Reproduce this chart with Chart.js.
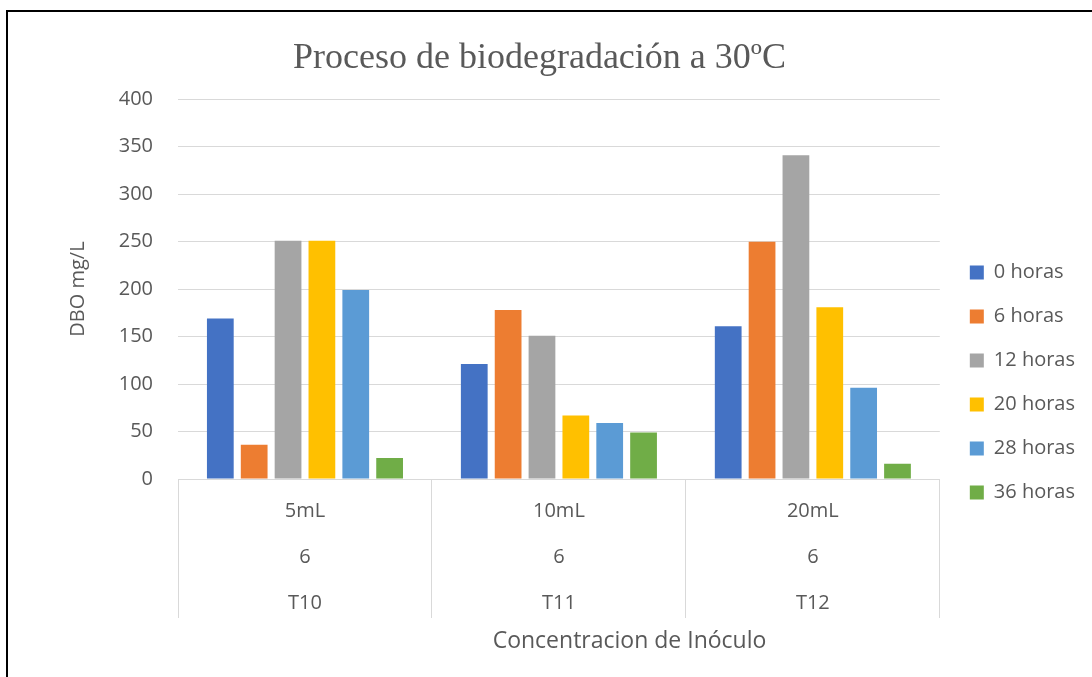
<!DOCTYPE html>
<html>
<head>
<meta charset="utf-8">
<script src="https://cdn.jsdelivr.net/npm/chart.js@4"></script>
<style>
  html, body { margin: 0; padding: 0; background: #fff; }
  #frame { position: absolute; left: 6px; top: 10px; width: 1200px; height: 800px;
           border-left: 2px solid #000; border-top: 2px solid #000; }
  #wrap { position: absolute; left: 0; top: 0; width: 1092px; height: 677px; }
</style>
</head>
<body>
<div id="frame"></div>
<div id="wrap"><canvas id="chart"></canvas></div>
<script>
// categorias (3 niveles) y series
const categories = [
  ['5mL', '6', 'T10'],
  ['10mL', '6', 'T11'],
  ['20mL', '6', 'T12']
];
const seriesNames = ['0 horas', '6 horas', '12 horas', '20 horas', '28 horas', '36 horas'];
const h0  = [169, 121, 161];
const h6  = [36, 178, 250];
const h12 = [251, 151, 341];
const h20 = [251, 67, 181];
const h28 = [199, 59, 96];
const h36 = [22, 49, 16];
const yTicks = [0, 50, 100, 150, 200, 250, 300, 350, 400];

const colors = ['#4472C4', '#ED7D31', '#A5A5A5', '#FFC000', '#5B9BD5', '#70AD47'];
const textColor = '#595959';
const gridColor = '#d9d9d9';
const font = 'Open Sans';

const seriesData = [h0, h6, h12, h20, h28, h36];

// titulo del eje x centrado sobre grafico + leyenda (como Excel)
const xTitlePlugin = {
  id: 'xTitle',
  afterLayout(chart) {
    // bajar la leyenda
    const l = chart.legend;
    l.top += 44; l.bottom += 44;
    l.left += 6; l.right += 6;
  },
  afterDraw(chart) {
    const ctx = chart.ctx;
    const area = chart.chartArea;
    ctx.save();
    ctx.fillStyle = textColor;
    ctx.font = '23px "' + font + '"';
    ctx.textAlign = 'center';
    ctx.textBaseline = 'middle';
    ctx.fillText('Concentracion de Inóculo', (area.left + chart.legend.right) / 2 - 2, 641);
    ctx.restore();
  }
};

const ctx = document.getElementById('chart').getContext('2d');
new Chart(ctx, {
  type: 'bar',
  data: {
    labels: categories,
    datasets: seriesNames.map((name, i) => ({
      label: name,
      data: seriesData[i],
      backgroundColor: colors[i],
      borderWidth: 0,
      categoryPercentage: 0.8,
      barPercentage: 0.79
    }))
  },
  options: {
    responsive: true,
    maintainAspectRatio: false,
    animation: false,
    layout: { padding: { left: 0, right: 13, top: 0, bottom: 0 } },
    plugins: {
      title: {
        display: true,
        text: 'Proceso de biodegradación a 30ºC',
        color: textColor,
        font: { family: 'Liberation Serif', size: 36, weight: 'normal' },
        padding: { top: 37, bottom: 19 }
      },
      legend: {
        position: 'right',
        labels: {
          color: textColor,
          font: { family: font, size: 20 },
          boxWidth: 14,
          boxHeight: 14,
          padding: 24
        }
      },
      tooltip: { enabled: false }
    },
    scales: {
      x: {
        offset: true,
        grid: {
          display: true,
          offset: true,
          drawOnChartArea: false,
          tickLength: 139,
          color: gridColor
        },
        border: { display: true, color: gridColor },
        ticks: {
          color: textColor,
          font: { family: font, size: 20, lineHeight: 2.3 },
          padding: -130,
          maxRotation: 0,
          autoSkip: false
        },
        afterFit(scale) { scale.height = 198; }
      },
      y: {
        min: 0,
        max: 400,
        afterBuildTicks(scale) { scale.ticks = yTicks.map(v => ({ value: v })); },
        grid: { color: gridColor, drawTicks: false },
        border: { display: false },
        ticks: {
          color: textColor,
          font: { family: font, size: 20 },
          padding: 25
        },
        title: {
          display: true,
          text: 'DBO mg/L',
          color: textColor,
          font: { family: font, size: 20 },
          padding: { top: 66, bottom: 0 }
        },
        afterFit(scale) { scale.width = 178; }
      }
    }
  },
  plugins: [xTitlePlugin]
});
</script>
</body>
</html>
